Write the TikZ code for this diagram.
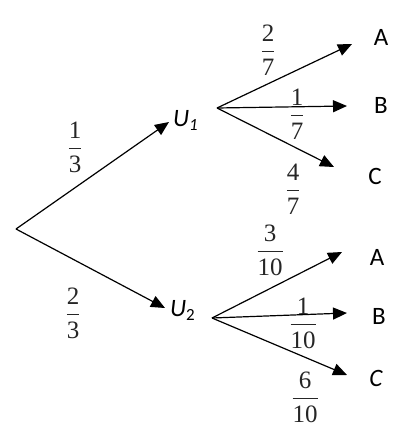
\documentclass[tikz,border=0pt]{standalone}
\usepackage{amsmath}
\usepackage{fontspec}
\setmainfont{Liberation Serif}
\setsansfont{Carlito}
\usetikzlibrary{arrows.meta}
\newcommand{\pfrac}[2]{$\dfrac{\text{#1}}{\text{#2}}$}
\tikzset{
  branch/.style={line width=1.2pt, -{Triangle[length=14pt,width=12pt]}},
  leaf/.style={font=\sffamily\fontsize{25}{28}\selectfont, inner sep=0pt},
  urn/.style={font=\sffamily\itshape\fontsize{25}{28}\selectfont, inner sep=0pt, anchor=west},
  prob/.style={font=\fontsize{25}{28}\selectfont, inner sep=0pt, text=black!85}
}
\begin{document}
\begin{tikzpicture}[x=1pt,y=-1pt]
\useasboundingbox[fill=white] (0,0) rectangle (392,430);
\coordinate (root) at (16,229);
% first level
\coordinate (t1) at (169,122);
\coordinate (t2) at (165,308);
\node[urn] (u1) at (173,120) {U\raisebox{-4pt}{\fontsize{17}{18}\selectfont 1}};
\node[urn] (u2) at (170,310) {U\raisebox{-4pt}{\fontsize{17}{18}\upshape\selectfont 2}};
\coordinate (o1) at (217,108);
\coordinate (o2) at (212,318);
\draw[branch] (root) -- (t1);
\draw[branch] (root) -- (t2);
\node[prob] (p1) at (75,147) {\pfrac{1}{3}};
\node[prob] (p2) at (73,313) {\pfrac{2}{3}};
% leaves U1
\coordinate (a1t) at (352,44);
\coordinate (b1t) at (347,106);
\coordinate (c1t) at (334,167);
\node[leaf] (a1) at (381,37) {A};
\node[leaf] (b1) at (381,105) {B};
\node[leaf] (c1) at (375,176) {C};
\draw[branch] (o1) -- (a1t);
\draw[branch] (o1) -- (b1t);
\draw[branch] (o1) -- (c1t);
\node[prob] (q1) at (268,50) {\pfrac{2}{7}};
\node[prob] (q2) at (297,114) {\pfrac{1}{7}};
\node[prob] (q3) at (293,189) {\pfrac{4}{7}};
% leaves U2
\coordinate (a2t) at (342,252);
\coordinate (b2t) at (347,313);
\coordinate (c2t) at (347,375);
\node[leaf] (a2) at (377,257) {A};
\node[leaf] (b2) at (379,316) {B};
\node[leaf,font=\sffamily\itshape\fontsize{25}{28}\selectfont] (c2) at (376,378) {C};
\draw[branch] (o2) -- (a2t);
\draw[branch] (o2) -- (b2t);
\draw[branch] (o2) -- (c2t);
\node[prob] (r1) at (270,250) {\pfrac{3}{10}};
\node[prob] (r2) at (303,323) {\pfrac{1}{10}};
\node[prob] (r3) at (305,397) {\pfrac{6}{10}};
\end{tikzpicture}
\end{document}
